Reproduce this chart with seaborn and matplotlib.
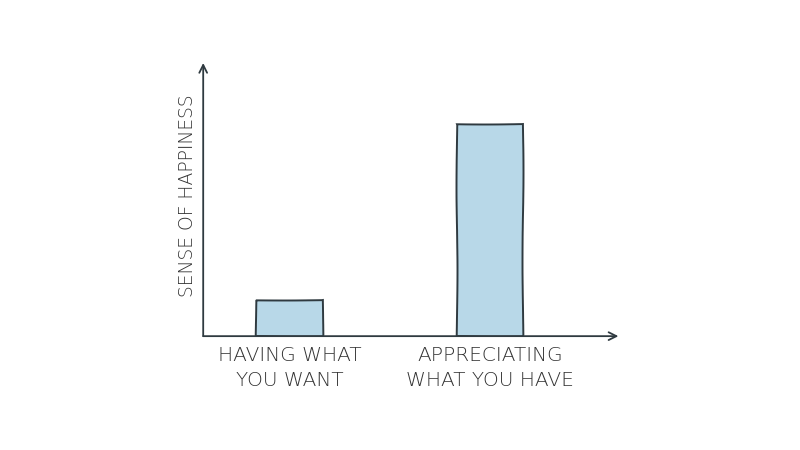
import matplotlib
matplotlib.use('Agg')
import matplotlib.pyplot as plt
import pandas as pd
import seaborn as sns

# Data (arbitrary "happiness" units)
categories = ['HAVING WHAT\nYOU WANT', 'APPRECIATING\nWHAT YOU HAVE']
happiness = [1.7, 10.0]

df = pd.DataFrame({'category': categories, 'happiness': happiness})

sns.set_style('white')
plt.rcParams['font.family'] = ['DejaVu Sans']

fig = plt.figure(figsize=(8, 4.5), dpi=100)
ax = fig.add_axes([0.254, 0.253, 0.519, 0.607])

sns.barplot(data=df, x='category', y='happiness', color='#b8d8e8',
            width=0.33, saturation=1, edgecolor='#2f3a40', linewidth=1.4, ax=ax)
for p in ax.patches:
    p.set_sketch_params(scale=0.5, length=200, randomness=2)

ax.set_xlim(-0.43, 1.64)
ax.set_ylim(0, 12.9)

# hand-drawn looking axes with open arrow heads
for s in ['top', 'right', 'left', 'bottom']:
    ax.spines[s].set_visible(False)
arrow = dict(arrowstyle='->', color='#2f3a40', lw=1.3, mutation_scale=14,
             shrinkA=0, shrinkB=0)
ax.annotate('', xy=(1.0, 0), xytext=(0, 0), xycoords='axes fraction',
            arrowprops=arrow)
ax.annotate('', xy=(0, 1.0), xytext=(0, 0), xycoords='axes fraction',
            arrowprops=arrow)

ax.set_yticks([])
ax.tick_params(axis='x', length=0, pad=7)
ax.set_xticks(range(len(categories)))
ax.set_xticklabels(categories, fontsize=14.5, color='#333333',
                   linespacing=1.4, fontweight='light')
ax.set_xlabel('')
ax.set_ylabel('SENSE OF HAPPINESS', fontsize=13.5, color='#333333',
              fontweight='light')
ax.yaxis.set_label_coords(-0.015, 0.515)

fig.savefig('out.png', dpi=100, facecolor='white')
plt.close(fig)
